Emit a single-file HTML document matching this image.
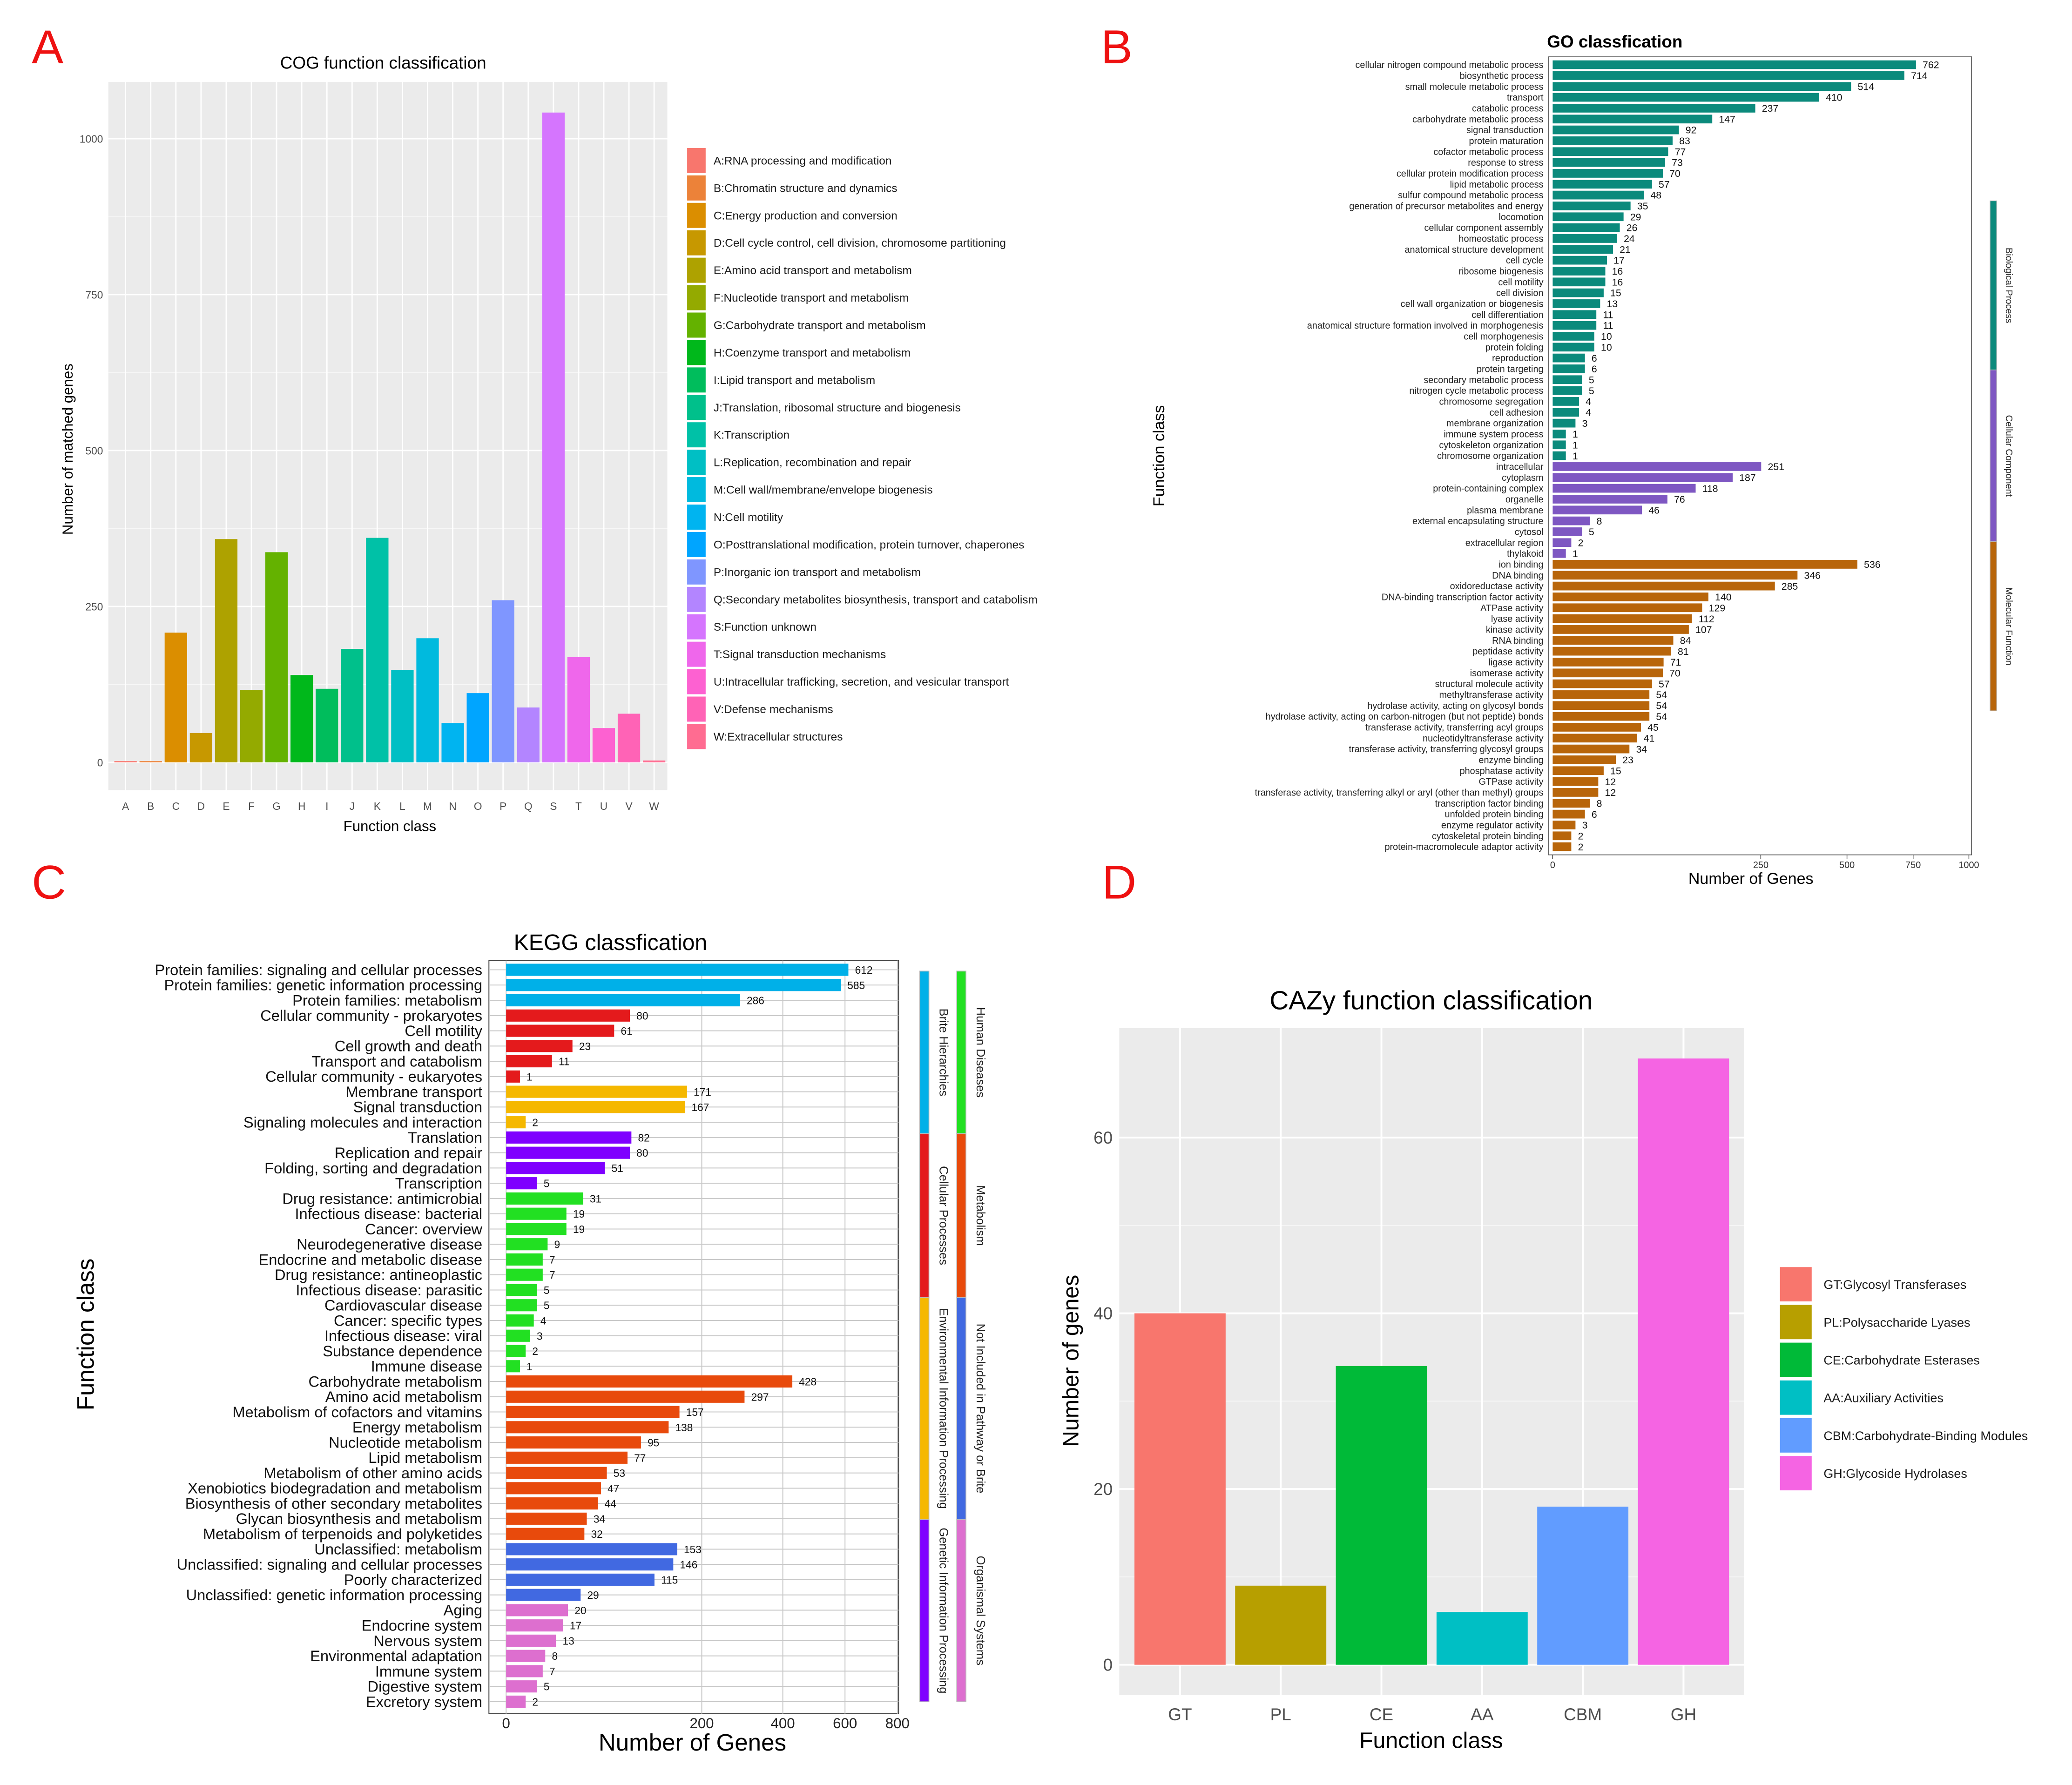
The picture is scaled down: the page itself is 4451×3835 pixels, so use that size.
<!DOCTYPE html>
<html><head><meta charset="utf-8"><style>
html,body{margin:0;padding:0;background:#fff;}
svg{display:block;font-family:"Liberation Sans","DejaVu Sans",sans-serif;}
</style></head><body>
<svg id="fig" width="4451" height="3835" viewBox="0 0 1568 1351" preserveAspectRatio="none" xmlns="http://www.w3.org/2000/svg">
<rect width="1568" height="1351" fill="#fff"/>
<text x="24" y="48" font-size="36" fill="#ee1111">A</text>
<text x="833" y="48" font-size="36" fill="#ee1111">B</text>
<text x="24" y="680" font-size="36" fill="#ee1111">C</text>
<text x="834" y="680" font-size="36" fill="#ee1111">D</text>
<g id="cog"></g><g id="go"></g><g id="kegg"></g><g id="cazy"></g>
</svg>
<script>
// ---------- DATA ----------
const cogCats = ["A","B","C","D","E","F","G","H","I","J","K","L","M","N","O","P","Q","S","T","U","V","W"];
const cogValues = [2,2,208,47,358,116,337,140,118,182,360,148,199,63,111,260,88,1042,169,55,78,3];
const cogLegend = ["A:RNA processing and modification","B:Chromatin structure and dynamics","C:Energy production and conversion","D:Cell cycle control, cell division, chromosome partitioning","E:Amino acid transport and metabolism","F:Nucleotide transport and metabolism","G:Carbohydrate transport and metabolism","H:Coenzyme transport and metabolism","I:Lipid transport and metabolism","J:Translation, ribosomal structure and biogenesis","K:Transcription","L:Replication, recombination and repair","M:Cell wall/membrane/envelope biogenesis","N:Cell motility","O:Posttranslational modification, protein turnover, chaperones","P:Inorganic ion transport and metabolism","Q:Secondary metabolites biosynthesis, transport and catabolism","S:Function unknown","T:Signal transduction mechanisms","U:Intracellular trafficking, secretion, and vesicular transport","V:Defense mechanisms","W:Extracellular structures"];
const cogColors = ["#f8766d","#ec8239","#db8e00","#c79800","#aea200","#94aa00","#64b200","#00b81b","#00bd5c","#00c08b","#00c1a7","#00bfc4","#00bade","#00b4f0","#00a5ff","#7f96ff","#b385ff","#d575fe","#ef67eb","#fd61d1","#ff63b6","#ff6c91"];
const cogTicks = [0,250,500,750,1000];

const goLabels = ["cellular nitrogen compound metabolic process","biosynthetic process","small molecule metabolic process","transport","catabolic process","carbohydrate metabolic process","signal transduction","protein maturation","cofactor metabolic process","response to stress","cellular protein modification process","lipid metabolic process","sulfur compound metabolic process","generation of precursor metabolites and energy","locomotion","cellular component assembly","homeostatic process","anatomical structure development","cell cycle","ribosome biogenesis","cell motility","cell division","cell wall organization or biogenesis","cell differentiation","anatomical structure formation involved in morphogenesis","cell morphogenesis","protein folding","reproduction","protein targeting","secondary metabolic process","nitrogen cycle metabolic process","chromosome segregation","cell adhesion","membrane organization","immune system process","cytoskeleton organization","chromosome organization","intracellular","cytoplasm","protein-containing complex","organelle","plasma membrane","external encapsulating structure","cytosol","extracellular region","thylakoid","ion binding","DNA binding","oxidoreductase activity","DNA-binding transcription factor activity","ATPase activity","lyase activity","kinase activity","RNA binding","peptidase activity","ligase activity","isomerase activity","structural molecule activity","methyltransferase activity","hydrolase activity, acting on glycosyl bonds","hydrolase activity, acting on carbon-nitrogen (but not peptide) bonds","transferase activity, transferring acyl groups","nucleotidyltransferase activity","transferase activity, transferring glycosyl groups","enzyme binding","phosphatase activity","GTPase activity","transferase activity, transferring alkyl or aryl (other than methyl) groups","transcription factor binding","unfolded protein binding","enzyme regulator activity","cytoskeletal protein binding","protein-macromolecule adaptor activity"];
const goValues = [762,714,514,410,237,147,92,83,77,73,70,57,48,35,29,26,24,21,17,16,16,15,13,11,11,10,10,6,6,5,5,4,4,3,1,1,1,251,187,118,76,46,8,5,2,1,536,346,285,140,129,112,107,84,81,71,70,57,54,54,54,45,41,34,23,15,12,12,8,6,3,2,2];
const goGroups = ["Biological Process","Cellular Component","Molecular Function"];
const goGroupSizes = [37,9,27];
const goColors = ["#0b8a7c","#7e57c2","#b8650a"];
const goTicks = [0,250,500,750,1000];

const keggLabels = ["Protein families: signaling and cellular processes","Protein families: genetic information processing","Protein families: metabolism","Cellular community - prokaryotes","Cell motility","Cell growth and death","Transport and catabolism","Cellular community - eukaryotes","Membrane transport","Signal transduction","Signaling molecules and interaction","Translation","Replication and repair","Folding, sorting and degradation","Transcription","Drug resistance: antimicrobial","Infectious disease: bacterial","Cancer: overview","Neurodegenerative disease","Endocrine and metabolic disease","Drug resistance: antineoplastic","Infectious disease: parasitic","Cardiovascular disease","Cancer: specific types","Infectious disease: viral","Substance dependence","Immune disease","Carbohydrate metabolism","Amino acid metabolism","Metabolism of cofactors and vitamins","Energy metabolism","Nucleotide metabolism","Lipid metabolism","Metabolism of other amino acids","Xenobiotics biodegradation and metabolism","Biosynthesis of other secondary metabolites","Glycan biosynthesis and metabolism","Metabolism of terpenoids and polyketides","Unclassified: metabolism","Unclassified: signaling and cellular processes","Poorly characterized","Unclassified: genetic information processing","Aging","Endocrine system","Nervous system","Environmental adaptation","Immune system","Digestive system","Excretory system"];
const keggValues = [612,585,286,80,61,23,11,1,171,167,2,82,80,51,5,31,19,19,9,7,7,5,5,4,3,2,1,428,297,157,138,95,77,53,47,44,34,32,153,146,115,29,20,17,13,8,7,5,2];
const keggGroupSizes = [3,5,3,4,12,11,4,7];
const keggColors = ["#00b0e8","#e41a1c","#f5b800","#7f00ff","#22e022","#e84a0c","#4169e1","#dd6fcf"];
const keggGroups = ["Brite Hierarchies","Cellular Processes","Environmental Information Processing","Genetic Information Processing","Human Diseases","Metabolism","Not Included in Pathway or Brite","Organismal Systems"];
const keggTicks = [0,200,400,600,800];

const cazyCats = ["GT","PL","CE","AA","CBM","GH"];
const cazyValues = [40,9,34,6,18,69];
const cazyLegend = ["GT:Glycosyl Transferases","PL:Polysaccharide Lyases","CE:Carbohydrate Esterases","AA:Auxiliary Activities","CBM:Carbohydrate-Binding Modules","GH:Glycoside Hydrolases"];
const cazyColors = ["#f8766d","#b79f00","#00ba38","#00bfc4","#619cff","#f564e3"];
const cazyTicks = [0,20,40,60];

// ---------- HELPERS ----------
const NS="http://www.w3.org/2000/svg";
function mk(parent,tag,attrs,txt){const e=document.createElementNS(NS,tag);for(const k in attrs)e.setAttribute(k,attrs[k]);if(txt!==undefined)e.textContent=txt;parent.appendChild(e);return e;}

// ---------- COG ----------
(function(){
const g=document.getElementById('cog');
const x0=82,x1=505,yT=62,yB=598;
const y=v=>577-v*0.472;
const xc=i=>95+i*(400/21);
let e=mk(g,'rect',{x:x0,y:yT,width:x1-x0,height:yB-yT,fill:'#ebebeb'});


for(let k=0;k<cogTicks.length-1;k++){const m=(cogTicks[k]+cogTicks[k+1])/2;mk(g,'line',{x1:x0,x2:x1,y1:y(m),y2:y(m),stroke:'#f7f7f7','stroke-width':0.5});}
cogTicks.forEach(t=>{
 mk(g,'line',{x1:x0,x2:x1,y1:y(t),y2:y(t),stroke:'#fff','stroke-width':1});
 e=mk(g,'text',{x:x0-4,y:y(t)+3,'font-size':8,'text-anchor':'end',fill:'#4d4d4d'},String(t));
 
 
});
cogCats.forEach((c,i)=>mk(g,'line',{x1:xc(i),x2:xc(i),y1:yT,y2:yB,stroke:'#fff','stroke-width':1}));
cogCats.forEach((c,i)=>{
 e=mk(g,'rect',{x:xc(i)-8.5,y:y(cogValues[i]),width:17,height:Math.max(0.5,cogValues[i]*0.472),fill:cogColors[i]});
 
 
 e=mk(g,'text',{x:xc(i),y:613,'font-size':8,'text-anchor':'middle',fill:'#4d4d4d'},c);
 
 
});
e=mk(g,'text',{x:290,y:52,'font-size':13,'text-anchor':'middle',fill:'#000'},'COG function classification');


e=mk(g,'text',{x:295,y:629,'font-size':11,'text-anchor':'middle',fill:'#000'},'Function class');


e=mk(g,'text',{x:0,y:0,'font-size':11,'text-anchor':'middle',fill:'#000',transform:'translate(55,340) rotate(-90)'},'Number of matched genes');


cogLegend.forEach((t,i)=>{
 const yy=121+i*20.76;
 e=mk(g,'rect',{x:520,y:yy-9,width:14,height:19,fill:cogColors[i]});
 
 
 e=mk(g,'text',{x:540,y:yy+3.5,'font-size':8.6,fill:'#1a1a1a'},t);
 
 
});
})();

// ---------- GO ----------
(function(){
const g=document.getElementById('go');
const x0=1172,x1=1492,yT=43,yB=647;
const x=v=>1175+Math.sqrt(v)*9.96;
const yc=i=>49+i*8.22;
let e=mk(g,'rect',{x:x0,y:yT,width:x1-x0,height:yB-yT,fill:'#fff',stroke:'#555','stroke-width':0.6});


let gi=0,cnt=0;const colIdx=[];
goGroupSizes.forEach((n,k)=>{for(let j=0;j<n;j++)colIdx.push(k);});
goLabels.forEach((lab,i)=>{
 const v=goValues[i];
 e=mk(g,'rect',{x:1175,y:yc(i)-3.3,width:x(v)-1175,height:6.6,fill:goColors[colIdx[i]]});
 
 
 e=mk(g,'text',{x:1168,y:yc(i)+2.5,'font-size':7,'text-anchor':'end',fill:'#222'},lab);
 
 
 e=mk(g,'text',{x:x(v)+5,y:yc(i)+2.7,'font-size':7.5,fill:'#111'},String(v));
 
 
});
goTicks.forEach(t=>{
 mk(g,'line',{x1:x(t),x2:x(t),y1:yB,y2:yB+3,stroke:'#333','stroke-width':0.5});
 e=mk(g,'text',{x:x(t),y:yB+10,'font-size':7,'text-anchor':'middle',fill:'#333'},String(t));
 
 
});
const strips=[[152,280],[280,410],[410,538]];
strips.forEach((s,k)=>{
 e=mk(g,'rect',{x:1506,y:s[0],width:5,height:s[1]-s[0],fill:goColors[k],stroke:'#bbb','stroke-width':0.5});
 
 
 e=mk(g,'text',{x:0,y:0,'font-size':7,'text-anchor':'middle',fill:'#222',transform:`translate(1518,${(s[0]+s[1])/2}) rotate(90)`},goGroups[k]);
 
 
});
e=mk(g,'text',{x:1222,y:36,'font-size':13,'font-weight':'bold','text-anchor':'middle',fill:'#000'},'GO classfication');


e=mk(g,'text',{x:1325,y:669,'font-size':12,'text-anchor':'middle',fill:'#000'},'Number of Genes');


e=mk(g,'text',{x:0,y:0,'font-size':12,'text-anchor':'middle',fill:'#000',transform:'translate(881,345) rotate(-90)'},'Function class');


})();

// ---------- KEGG ----------
(function(){
const g=document.getElementById('kegg');
const x0=370,x1=680,yT=727,yB=1297;
const x=v=>383+Math.sqrt(v)*10.47;
const yc=i=>734+i*11.54;
let e=mk(g,'rect',{x:x0,y:yT,width:x1-x0,height:yB-yT,fill:'#fff',stroke:'#444','stroke-width':0.7});


keggTicks.forEach(t=>mk(g,'line',{x1:x(t),x2:x(t),y1:yT,y2:yB,stroke:'#c8c8c8','stroke-width':0.7}));
keggLabels.forEach((l,i)=>mk(g,'line',{x1:x0,x2:x1,y1:yc(i),y2:yc(i),stroke:'#c8c8c8','stroke-width':0.7}));
const colIdx=[];keggGroupSizes.forEach((n,k)=>{for(let j=0;j<n;j++)colIdx.push(k);});
keggLabels.forEach((lab,i)=>{
 const v=keggValues[i];
 e=mk(g,'rect',{x:383,y:yc(i)-4.6,width:x(v)-383,height:9.2,fill:keggColors[colIdx[i]]});
 
 
 e=mk(g,'text',{x:365,y:yc(i)+4,'font-size':11.5,'text-anchor':'end',fill:'#111'},lab);
 
 
 e=mk(g,'text',{x:x(v)+5,y:yc(i)+3,'font-size':8,fill:'#111'},String(v));
 
 
});
keggTicks.forEach(t=>{
 e=mk(g,'text',{x:x(t),y:1308,'font-size':11,'text-anchor':'middle',fill:'#222'},String(t));
 
 
});
const segs=[[735,858],[858,982],[982,1150],[1150,1288]];
segs.forEach((s,k)=>{
 e=mk(g,'rect',{x:696,y:s[0],width:7,height:s[1]-s[0],fill:keggColors[k],stroke:'#bbb','stroke-width':0.6});
 
 
 e=mk(g,'text',{x:0,y:0,'font-size':9,'text-anchor':'middle',fill:'#222',transform:`translate(711,${(s[0]+s[1])/2}) rotate(90)`},keggGroups[k]);
 
 
 e=mk(g,'rect',{x:724,y:s[0],width:7,height:s[1]-s[0],fill:keggColors[k+4],stroke:'#bbb','stroke-width':0.6});
 
 
 e=mk(g,'text',{x:0,y:0,'font-size':9,'text-anchor':'middle',fill:'#222',transform:`translate(739,${(s[0]+s[1])/2}) rotate(90)`},keggGroups[k+4]);
 
 
});
e=mk(g,'text',{x:462,y:719,'font-size':17,'text-anchor':'middle',fill:'#000'},'KEGG classfication');


e=mk(g,'text',{x:524,y:1325,'font-size':18,'text-anchor':'middle',fill:'#000'},'Number of Genes');


e=mk(g,'text',{x:0,y:0,'font-size':18,'text-anchor':'middle',fill:'#000',transform:'translate(71,1010) rotate(-90)'},'Function class');


})();

// ---------- CAZy ----------
(function(){
const g=document.getElementById('cazy');
const x0=847,x1=1320,yT=778,yB=1283;
const y=v=>1260-v*6.65;
const xc=i=>893+i*76.2;
let e=mk(g,'rect',{x:x0,y:yT,width:x1-x0,height:yB-yT,fill:'#ebebeb'});


[10,30,50].forEach(m=>mk(g,'line',{x1:x0,x2:x1,y1:y(m),y2:y(m),stroke:'#f6f6f6','stroke-width':0.7}));
cazyTicks.forEach(t=>{
 mk(g,'line',{x1:x0,x2:x1,y1:y(t),y2:y(t),stroke:'#fff','stroke-width':1.4});
 e=mk(g,'text',{x:x0-5,y:y(t)+4.5,'font-size':13,'text-anchor':'end',fill:'#4d4d4d'},String(t));
 
 
});
cazyCats.forEach((c,i)=>mk(g,'line',{x1:xc(i),x2:xc(i),y1:yT,y2:yB,stroke:'#fff','stroke-width':1.4}));
cazyCats.forEach((c,i)=>{
 e=mk(g,'rect',{x:xc(i)-34.5,y:y(cazyValues[i]),width:69,height:cazyValues[i]*6.65,fill:cazyColors[i]});
 
 
 e=mk(g,'text',{x:xc(i),y:1302,'font-size':13,'text-anchor':'middle',fill:'#4d4d4d'},c);
 
 
});
e=mk(g,'text',{x:1083,y:764,'font-size':20,'text-anchor':'middle',fill:'#000'},'CAZy function classification');


e=mk(g,'text',{x:1083,y:1323,'font-size':17,'text-anchor':'middle',fill:'#000'},'Function class');


e=mk(g,'text',{x:0,y:0,'font-size':17,'text-anchor':'middle',fill:'#000',transform:'translate(816,1030) rotate(-90)'},'Number of genes');


cazyLegend.forEach((t,i)=>{
 const yy=972+i*28.6;
 e=mk(g,'rect',{x:1347,y:yy-13,width:24,height:26,fill:cazyColors[i]});
 
 
 e=mk(g,'text',{x:1380,y:yy+3.5,'font-size':9.5,fill:'#1a1a1a'},t);
 
 
});
})();
</script>
</body></html>
